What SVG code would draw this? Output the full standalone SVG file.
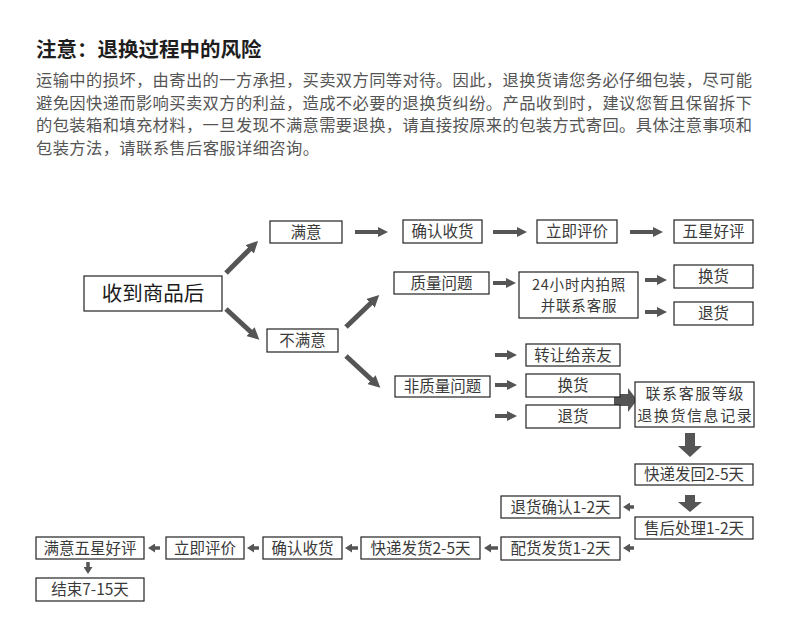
<svg xmlns="http://www.w3.org/2000/svg" width="790" height="644" viewBox="0 0 790 644">
<style>
.bg{fill:#fff}
.box{fill:#fff;stroke:#222;stroke-width:1.2}
.t{font-family:"Noto Sans CJK SC","Liberation Sans",sans-serif;font-size:15.5px;fill:#3a3a3a;text-anchor:middle}
.tb{font-family:"Noto Sans CJK SC","Liberation Sans",sans-serif;font-size:20.5px;fill:#1a1a1a;text-anchor:middle}
.title{font-family:"Noto Sans CJK SC","Liberation Sans",sans-serif;font-size:20.5px;font-weight:bold;fill:#1e1e1e}
.body{font-family:"Noto Sans CJK SC","Liberation Sans",sans-serif;font-size:16.3px;fill:#555}
.ln{stroke:#555;stroke-width:4;fill:none}
.ld{stroke:#555;stroke-width:5;fill:none}
.ls{stroke:#555;stroke-width:3.5;fill:none}
.blk{fill:#555}
</style>
<defs>
<marker id="ah" markerUnits="userSpaceOnUse" markerWidth="10" markerHeight="10" refX="2" refY="5" orient="auto"><path d="M0,0 L10,5 L0,10 z" fill="#555"/></marker>
<marker id="ahd" markerUnits="userSpaceOnUse" markerWidth="12" markerHeight="12" refX="2" refY="6" orient="auto"><path d="M0,0 L12,6 L0,12 z" fill="#555"/></marker>
<marker id="ahs" markerUnits="userSpaceOnUse" markerWidth="7" markerHeight="9" refX="1" refY="4.5" orient="auto"><path d="M0,0 L7,4.5 L0,9 z" fill="#555"/></marker>
</defs>
<rect class="bg" x="0" y="0" width="790" height="644"/>

<g id="header">
<text class="title" x="36" y="57">注意：退换过程中的风险</text>
<text class="body" x="36" y="86" textLength="716" lengthAdjust="spacing">运输中的损坏，由寄出的一方承担，买卖双方同等对待。因此，退换货请您务必仔细包装，尽可能</text>
<text class="body" x="36" y="108.5" textLength="716" lengthAdjust="spacing">避免因快递而影响买卖双方的利益，造成不必要的退换货纠纷。产品收到时，建议您暂且保留拆下</text>
<text class="body" x="36" y="131" textLength="716" lengthAdjust="spacing">的包装箱和填充材料，一旦发现不满意需要退换，请直接按原来的包装方式寄回。具体注意事项和</text>
<text class="body" x="36" y="153.5" textLength="283" lengthAdjust="spacing">包装方法，请联系售后客服详细咨询。</text>
</g>

<g id="connectors">
<line class="ld" x1="226" y1="273" x2="251" y2="248" marker-end="url(#ahd)"/>
<line class="ld" x1="226" y1="309" x2="252" y2="333" marker-end="url(#ahd)"/>
<line class="ld" x1="346" y1="327" x2="372" y2="302" marker-end="url(#ahd)"/>
<line class="ld" x1="346" y1="356" x2="373" y2="381" marker-end="url(#ahd)"/>
<line class="ln" x1="355" y1="232" x2="380" y2="232" marker-end="url(#ah)"/>
<line class="ln" x1="493" y1="232" x2="519" y2="232" marker-end="url(#ah)"/>
<line class="ln" x1="630" y1="232" x2="655" y2="232" marker-end="url(#ah)"/>
<line class="ln" x1="493" y1="283" x2="508" y2="283" marker-end="url(#ah)"/>
<line class="ln" x1="645" y1="280" x2="659" y2="280" marker-end="url(#ah)"/>
<line class="ln" x1="645" y1="312" x2="659" y2="312" marker-end="url(#ah)"/>
<line class="ln" x1="495" y1="355" x2="509" y2="355" marker-end="url(#ah)"/>
<line class="ln" x1="495" y1="385" x2="509" y2="385" marker-end="url(#ah)"/>
<line class="ln" x1="495" y1="416" x2="509" y2="416" marker-end="url(#ah)"/>
<path class="blk" d="M614,394 H628 V388 L637,400 L628,412 V406 H614 Z"/>
<path class="blk" d="M685,433 H695 V446 H702 L690,457 L678,446 H685 Z"/>
<path class="blk" d="M685,495 H695 V502 H702 L690,512 L678,502 H685 Z"/>
<line class="ls" x1="634" y1="507" x2="629" y2="507" marker-end="url(#ahs)"/>
<line class="ls" x1="634" y1="548" x2="629" y2="548" marker-end="url(#ahs)"/>
<line class="ls" x1="498" y1="548" x2="490" y2="548" marker-end="url(#ahs)"/>
<line class="ls" x1="358" y1="548" x2="351" y2="548" marker-end="url(#ahs)"/>
<line class="ls" x1="259" y1="548" x2="253" y2="548" marker-end="url(#ahs)"/>
<line class="ls" x1="160" y1="548" x2="154" y2="548" marker-end="url(#ahs)"/>
<line class="ls" x1="88" y1="562" x2="88" y2="568" marker-end="url(#ahs)"/>
</g>

<g id="n-start"><rect class="box" x="84" y="276" width="138" height="35"/><text class="tb" x="153" y="301">收到商品后</text></g>
<g id="n-satisfied"><rect class="box" x="270" y="221" width="72" height="22"/><text class="t" x="306" y="237.5">满意</text></g>
<g id="n-unsatisfied"><rect class="box" x="267" y="329" width="71" height="23"/><text class="t" x="302.5" y="346">不满意</text></g>
<g id="n-confirm1"><rect class="box" x="403" y="220" width="79" height="23"/><text class="t" x="442.5" y="237">确认收货</text></g>
<g id="n-review1"><rect class="box" x="537" y="220" width="80" height="23"/><text class="t" x="577" y="237">立即评价</text></g>
<g id="n-fivestar"><rect class="box" x="674" y="220" width="79" height="23"/><text class="t" x="713.5" y="237">五星好评</text></g>
<g id="n-quality"><rect class="box" x="394" y="272" width="95" height="22"/><text class="t" x="441.5" y="288.5">质量问题</text></g>
<g id="n-24h"><rect class="box" x="519" y="272" width="119" height="46"/><text class="t" x="579" y="290" style="font-size:14.5px;letter-spacing:0.8px"><tspan x="579">24小时内拍照</tspan><tspan x="579" dy="21.2">并联系客服</tspan></text></g>
<g id="n-exchange1"><rect class="box" x="674" y="265" width="79" height="23"/><text class="t" x="713.5" y="282">换货</text></g>
<g id="n-return1"><rect class="box" x="674" y="302" width="79" height="23"/><text class="t" x="713.5" y="319">退货</text></g>
<g id="n-nonquality"><rect class="box" x="395" y="376" width="95" height="21"/><text class="t" x="442.5" y="392">非质量问题</text></g>
<g id="n-transfer"><rect class="box" x="526" y="344" width="94" height="22"/><text class="t" x="573" y="360.5">转让给亲友</text></g>
<g id="n-exchange2"><rect class="box" x="526" y="374" width="94" height="23"/><text class="t" x="573" y="391">换货</text></g>
<g id="n-return2"><rect class="box" x="526" y="405" width="94" height="23"/><text class="t" x="573" y="422">退货</text></g>
<g id="n-contact"><rect class="box" x="635" y="382" width="119" height="45"/><text class="t" x="695.3" y="399.3" style="font-size:15px;letter-spacing:1.6px"><tspan x="695.3">联系客服等级</tspan><tspan x="695.3" dy="21.9">退换货信息记录</tspan></text></g>
<g id="n-shipback"><rect class="box" x="635" y="464" width="118" height="21"/><text class="t" x="694" y="480">快递发回2-5天</text></g>
<g id="n-aftersale"><rect class="box" x="635" y="517" width="118" height="22"/><text class="t" x="694" y="533.5">售后处理1-2天</text></g>
<g id="n-returnconfirm"><rect class="box" x="501" y="496" width="119" height="22"/><text class="t" x="560.5" y="512.5">退货确认1-2天</text></g>
<g id="n-dispatch"><rect class="box" x="501" y="537" width="119" height="23"/><text class="t" x="560.5" y="554">配货发货1-2天</text></g>
<g id="n-ship"><rect class="box" x="361" y="537" width="119" height="22"/><text class="t" x="420.5" y="553.5">快递发货2-5天</text></g>
<g id="n-confirm2"><rect class="box" x="263" y="537" width="79" height="22"/><text class="t" x="302.5" y="553.5">确认收货</text></g>
<g id="n-review2"><rect class="box" x="166" y="537" width="78" height="22"/><text class="t" x="205" y="553.5">立即评价</text></g>
<g id="n-satisfied5"><rect class="box" x="36" y="537" width="108" height="22"/><text class="t" x="90" y="553.5">满意五星好评</text></g>
<g id="n-end"><rect class="box" x="36" y="578" width="108" height="23"/><text class="t" x="90" y="595">结束7-15天</text></g>
</svg>
